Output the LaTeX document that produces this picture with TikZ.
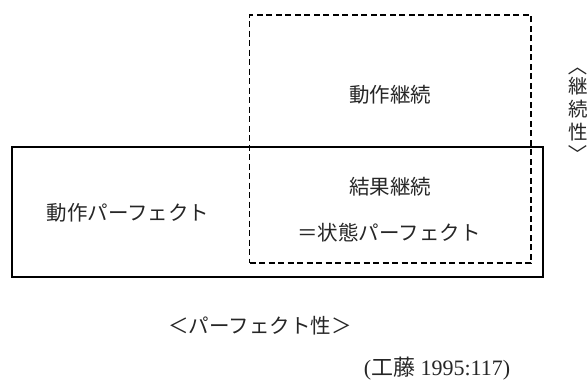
\documentclass[tikz,border=0pt]{standalone}
\usepackage{fontspec}
\setmainfont{Liberation Serif}
\newfontfamily\jp{Noto Sans CJK JP}
\tikzset{
  jtext/.style={font=\jp\fontsize{20.5}{24}\selectfont, text=black!85, inner sep=0pt},
  vtext/.style={font=\jp\fontsize{19.5}{22}\selectfont, text=black!85, inner sep=0pt}
}
\begin{document}
\begin{tikzpicture}[x=1pt, y=-1pt]
\useasboundingbox (0,0) rectangle (588,383);
\node[draw, rectangle, line width=1.3pt, minimum width=531pt, minimum height=130pt] (perfbox) at (277.5, 212) {};
\node[draw, rectangle, line width=1.3pt, dash pattern=on 6pt off 3.5pt, minimum width=281.5pt, minimum height=248pt] (contbox) at (390.25, 139) {};
\node[jtext] (dosakeizoku) at (390, 95) {動作継続};
\node[jtext] (kekkakeizoku) at (390, 187) {結果継続};
\node[jtext] (jotai) at (389, 233) {＝状態パーフェクト};
\node[jtext] (dosaperf) at (128, 213) {動作パーフェクト};
\node[jtext] (perfaxis) at (260, 326) {＜パーフェクト性＞};
% vertical label on the right
\node[vtext, rotate=-90] (vopen) at (578, 66) {〈};
\node[vtext] (vkei) at (578, 86) {継};
\node[vtext] (vzoku) at (578, 109) {続};
\node[vtext] (vsei) at (578, 132) {性};
\node[vtext, rotate=-90] (vclose) at (578, 154) {〉};
\node[font=\fontsize{22}{26}\selectfont, text=black!85, inner sep=0pt] (source) at (437, 369) {({\jp 工藤} 1995:117)};
\end{tikzpicture}
\end{document}
